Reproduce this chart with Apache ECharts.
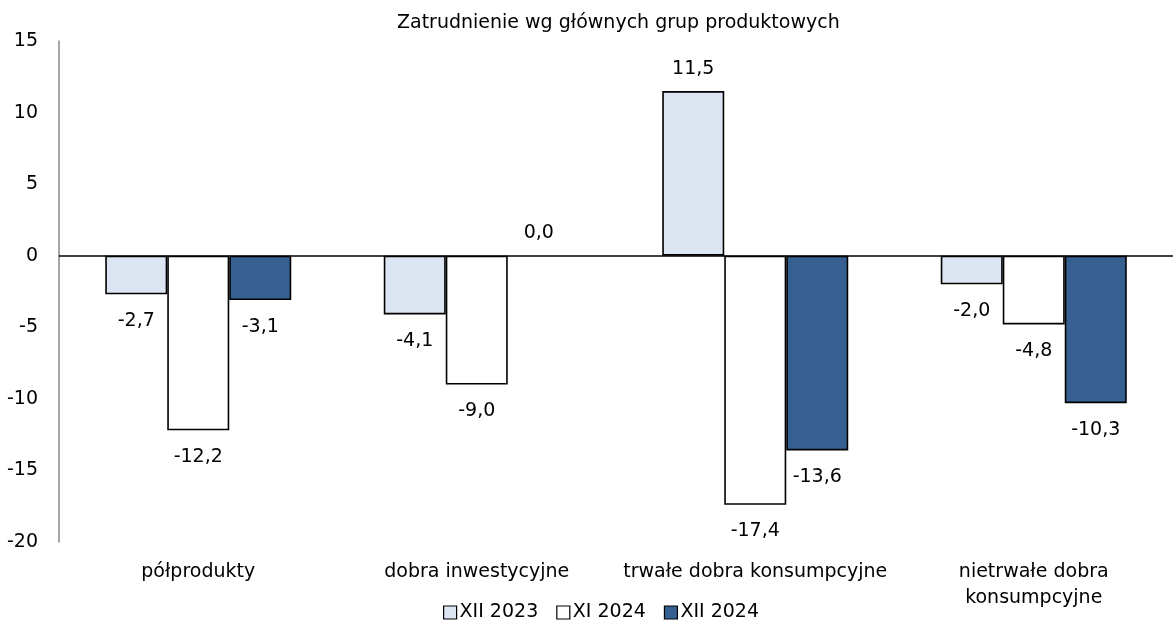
<!DOCTYPE html>
<html><head><meta charset="utf-8">
<script src="https://cdn.jsdelivr.net/npm/echarts@6/dist/echarts.min.js"></script>
<style>html,body{margin:0;padding:0;background:#fff}#c{width:1173px;height:622px}</style>
</head><body><div id="c"></div>
<script>
var categories = ['półprodukty', 'dobra inwestycyjne', 'trwałe dobra konsumpcyjne', 'nietrwałe dobra\nkonsumpcyjne'];
var seriesNames = ['XII 2023', 'XI 2024', 'XII 2024'];
var xii2023 = [-2.7, -4.1, 11.5, -2.0];
var xi2024 = [-12.2, -9.0, -17.4, -4.8];
var xii2024 = [-3.1, 0.0, -13.6, -10.3];
var yTicks = [15, 10, 5, 0, -5, -10, -15, -20];

var FONT = 'DejaVu Sans';
var FS = 19;
var colors = ['#DCE6F2', '#FFFFFF', '#366092'];

function items(arr) {
  return arr.map(function (v) {
    var it = {
      value: v,
      label: { position: v < 0 ? 'bottom' : 'top', distance: v < 0 ? 17 : 13 }
    };
    if (v === 0) it.itemStyle = { borderWidth: 0 };
    return it;
  });
}
function fmt(p) { return p.value.toFixed(1).replace('.', ','); }

var data = [xii2023, xi2024, xii2024];
var series = data.map(function (arr, i) {
  var s = {
    name: seriesNames[i], type: 'bar', data: items(arr),
    barWidth: 62, barGap: '0%',
    itemStyle: { color: colors[i], borderColor: '#000', borderWidth: 1.6 },
    label: { show: true, formatter: fmt, fontFamily: FONT, fontSize: FS, color: '#000' }
  };
  if (i === 0) {
    s.markLine = { silent: true, symbol: 'none', label: { show: false },
      lineStyle: { color: '#000', width: 1.5, type: 'solid' }, data: [{ yAxis: 0 }] };
  }
  return s;
});

var chart = echarts.init(document.getElementById('c'));
chart.setOption({
  animation: false,
  title: { text: 'Zatrudnienie wg głównych grup produktowych', left: 397, top: 12,
    padding: [2, 0, 2, 0],
    textStyle: { fontFamily: FONT, fontSize: FS, fontWeight: 'normal', color: '#000' } },
  legend: { left: 438, top: 598, itemWidth: 13, itemHeight: 13, itemGap: 18,
    data: seriesNames.map(function (n) { return { name: n, icon: 'rect' }; }),
    itemStyle: { borderColor: '#000', borderWidth: 1.2 },
    textStyle: { fontFamily: FONT, fontSize: FS, color: '#000', padding: [0, 0, 0, -2] } },
  grid: { left: 59, right: -3, top: 41, bottom: 80, containLabel: false },
  xAxis: { type: 'category', data: categories,
    axisLine: { show: false, onZero: false }, axisTick: { show: false },
    axisLabel: { margin: 17, fontFamily: FONT, fontSize: FS, color: '#000', lineHeight: 26, interval: 0 } },
  yAxis: { type: 'value', min: -20, max: 15, interval: 5,
    axisLine: { show: true, lineStyle: { color: '#888', width: 1.5 } },
    axisTick: { show: false }, splitLine: { show: false },
    axisLabel: { margin: 21, fontFamily: FONT, fontSize: FS, color: '#000' } },
  series: series
});
</script></body></html>
